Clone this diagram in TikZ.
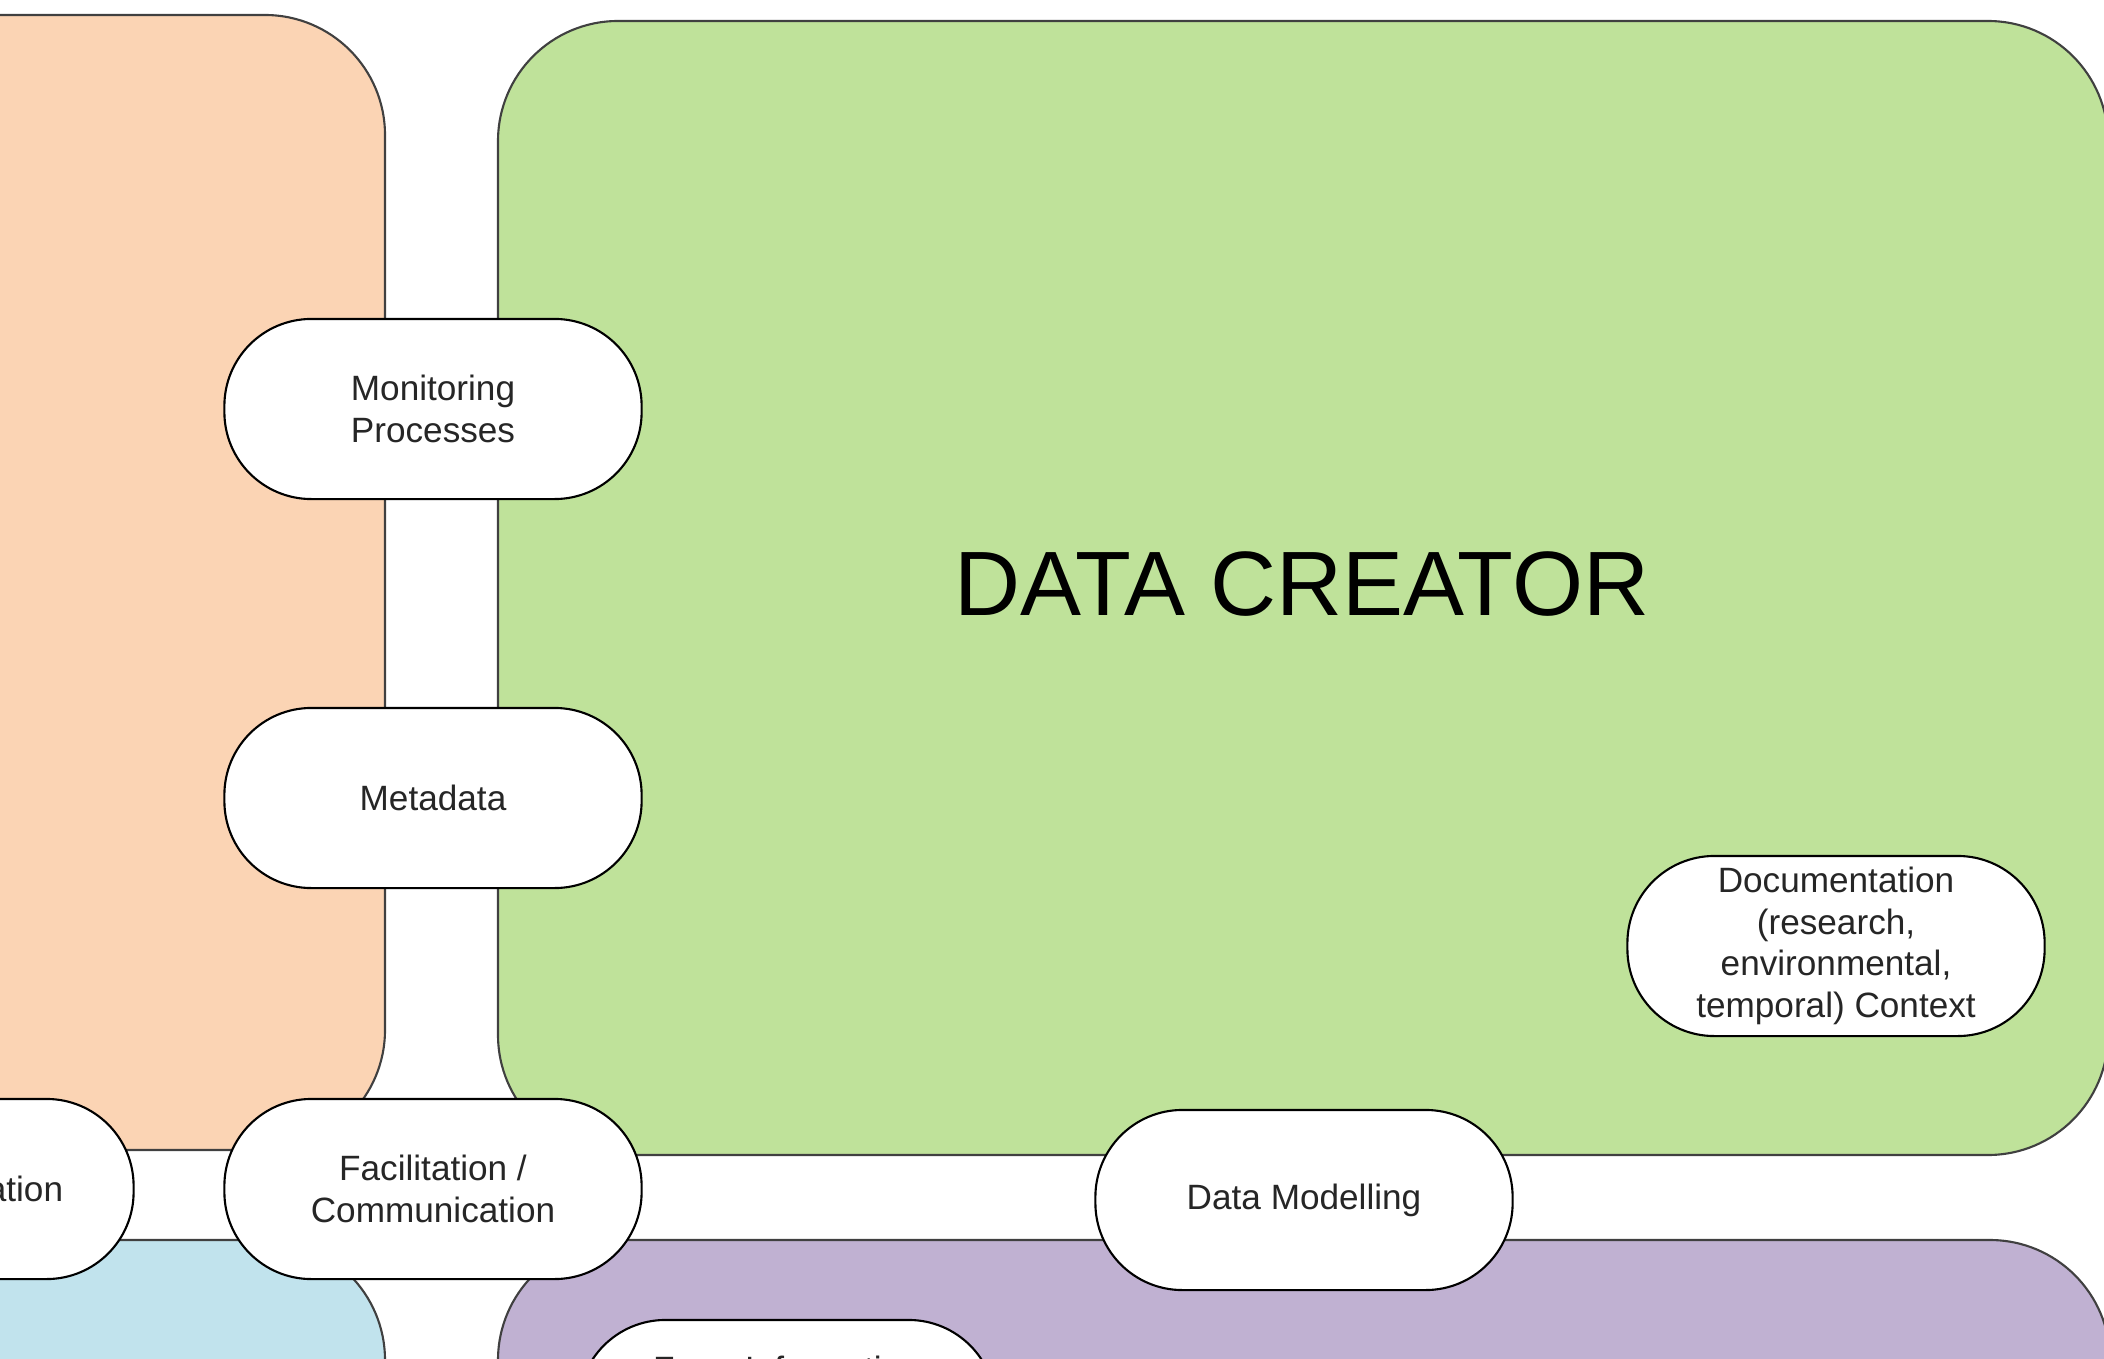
\documentclass[tikz,border=0pt]{standalone}
\usepackage{fontspec}
\setmainfont{Liberation Sans}

\definecolor{creatorgreen}{HTML}{BFE29A}
\definecolor{roleorange}{HTML}{FBD4B4}
\definecolor{roleblue}{HTML}{C1E3ED}
\definecolor{rolepurple}{HTML}{C0B1D2}

\begin{document}
\begin{tikzpicture}[x=0.01cm, y=-0.01cm]
\useasboundingbox (0,0) rectangle (2104,1358);
\clip (0,0) rectangle (2104,1358);

\begin{scope}[every path/.style={draw=black!75, line width=0.6pt, rounded corners=1.2cm}]
    \path[fill=roleorange] (-300,15) rectangle (385,1150);

    \path[fill=creatorgreen] (498,21) rectangle (2108,1155);

    \path[fill=roleblue] (-300,1240) rectangle (385,1700);

    \path[fill=rolepurple] (498,1240) rectangle (2110,1700);
\end{scope}

\node (0) at (1302,584) [font=\fontsize{26}{31}\selectfont] {DATA CREATOR};

\begin{scope}[
    every node/.style={draw=black,fill=white,line width=0.6pt,rounded corners=0.87cm,
        minimum width=4.17cm,minimum height=1.8cm,inner sep=1pt,align=center,
        text=black!85,font=\fontsize{10}{11.8}\selectfont}]
    \node (1) at (433,409) {Monitoring\\Processes};

    \node (2) at (433,798) {Metadata};

    \node (3) at (433,1189) {Facilitation /\\Communication};

    \node (4) at (-75,1189) [text width=2.76cm,align=right] {ation};

    \node (5) at (1304,1200) {Data Modelling};

    \node (6) at (1836,946) {Documentation\\(research,\\environmental,\\temporal) Context};

    \node (7) at (787,1410) {From Information\\\mbox{}\\\mbox{}};
\end{scope}
\end{tikzpicture}
\end{document}
